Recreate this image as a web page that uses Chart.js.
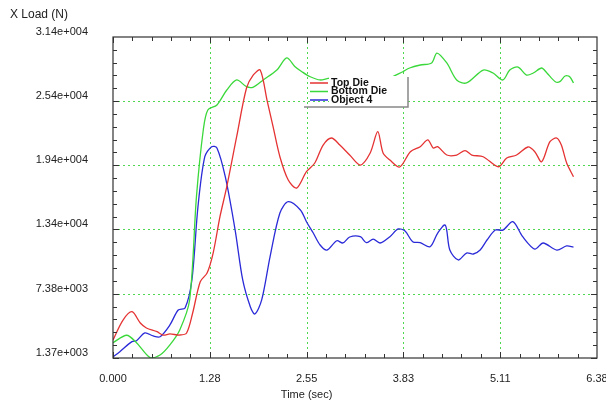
<!DOCTYPE html>
<html lang="en">
<head>
    <meta charset="UTF-8">
    <title>X Load</title>
    <script src="https://cdn.jsdelivr.net/npm/chart.js@4.4.1/dist/chart.umd.min.js"></script>
    <style>
        html, body { margin: 0; padding: 0; background: #fff; }
        #wrap { width: 606px; height: 403px; }
    </style>
</head>
<body>
    <div id="wrap"><canvas id="loadChart" width="606" height="403"></canvas></div>

    <script>
        // tick values and labels
        const xTickValues = [0, 1.276, 2.552, 3.828, 5.104, 6.38];
        const xTickLabels = ['0.000', '1.28', '2.55', '3.83', '5.11', '6.38'];
        const yTickValues = [1370, 7380, 13400, 19400, 25400, 31400];
        const yTickLabels = ['1.37e+003', '7.38e+003', '1.34e+004', '1.94e+004', '2.54e+004', '3.14e+004'];

        const seriesNames = ['Top Die', 'Bottom Die', 'Object 4'];
        const seriesColors = ['#e53232', '#3ad83a', '#2a2ad8'];

        // Top Die
        const topDieT = [0.00, 0.13, 0.25, 0.36, 0.44, 0.58, 0.66, 0.75, 0.88, 0.97, 1.05, 1.15, 1.24, 1.32, 1.41, 1.50, 1.63, 1.76, 1.85, 1.94,
            2.03, 2.11, 2.20, 2.31, 2.42, 2.55, 2.66, 2.77, 2.88, 2.99, 3.12, 3.26, 3.39, 3.49, 3.56, 3.65, 3.78, 3.92, 4.05, 4.15,
            4.22, 4.28, 4.40, 4.53, 4.64, 4.73, 4.88, 5.08, 5.19, 5.32, 5.47, 5.56, 5.65, 5.76, 5.85, 5.91, 5.98, 6.07];
        const topDieLoad = [3050, 4900, 5700, 4640, 4180, 3830, 3520, 3620, 3520, 3710, 5580, 8510, 9320, 11190, 14590, 17400, 22070, 26630, 27850, 28310,
            25500, 23010, 20200, 18020, 17270, 18800, 19610, 21290, 21950, 21290, 20360, 19420, 20550, 22540, 20550, 19890, 19240, 20670, 21140, 21780,
            21020, 21140, 20360, 20360, 20770, 20360, 20200, 19260, 20080, 20360, 21110, 20670, 19730, 21610, 21950, 21290, 19610, 18330];

        // Bottom Die
        const bottomDieT = [0.00, 0.18, 0.31, 0.49, 0.62, 0.75, 0.88, 1.01, 1.10, 1.19, 1.25, 1.37, 1.50, 1.63, 1.76, 1.85, 1.98, 2.16, 2.29, 2.40,
            2.49, 2.60, 2.73, 2.86, 3.03, 3.19, 3.36, 3.52, 3.69, 3.82, 3.91, 4.05, 4.20, 4.27, 4.40, 4.53, 4.66, 4.88, 5.01, 5.14,
            5.23, 5.34, 5.45, 5.54, 5.65, 5.72, 5.83, 5.89, 5.96, 6.02, 6.07];
        const bottomDieLoad = [2800, 3500, 2800, 1400, 1650, 2600, 4000, 6800, 16460, 22700, 24570, 25040, 26440, 27380, 26750, 26720, 27380, 28310, 29440, 28620,
            28150, 27680, 27380, 27560, 27380, 26820, 26630, 26910, 27690, 28150, 28500, 28780, 28970, 29900, 28970, 27380, 27100, 28310, 28030, 27380,
            28310, 28590, 27840, 28030, 28500, 28030, 27220, 27220, 27750, 27690, 27100];

        // Object 4
        const objectT = [0.00, 0.09, 0.25, 0.31, 0.42, 0.53, 0.62, 0.75, 0.86, 0.95, 1.04, 1.12, 1.21, 1.30, 1.37, 1.48, 1.61, 1.71, 1.81, 1.87,
            1.96, 2.07, 2.20, 2.31, 2.47, 2.55, 2.64, 2.73, 2.82, 2.95, 3.03, 3.12, 3.26, 3.34, 3.43, 3.52, 3.65, 3.76, 3.85, 3.95,
            4.05, 4.18, 4.28, 4.38, 4.44, 4.55, 4.66, 4.75, 4.84, 4.93, 5.04, 5.14, 5.27, 5.40, 5.56, 5.67, 5.85, 5.98, 6.07];
        const objectLoad = [1490, 1960, 2900, 2990, 3710, 3430, 3360, 4460, 5860, 6050, 8670, 15520, 20200, 21140, 21020, 18330, 13340, 8670, 6170, 5490,
            6800, 10840, 14940, 15990, 15220, 14120, 13060, 11940, 11470, 12340, 12130, 12690, 12720, 12160, 12500, 12130, 12720, 13440, 13250, 12250,
            12160, 11780, 13060, 13810, 11470, 10540, 11190, 11100, 11470, 12410, 13340, 13340, 14120, 12720, 11560, 12130, 11470, 11850, 11750];

        const seriesT = [topDieT, bottomDieT, objectT];
        const seriesLoad = [topDieLoad, bottomDieLoad, objectLoad];

        const FONT = '"Liberation Sans", Arial, sans-serif';

        // frame, inward ticks (major + minor), dotted green grid, legend, axis titles
        const decorations = {
            id: 'decorations',
            beforeDatasetsDraw(chart) {
                const { ctx, chartArea: a, scales: { x, y } } = chart;
                ctx.save();
                ctx.strokeStyle = '#4fd84f';
                ctx.lineWidth = 1;
                ctx.setLineDash([2, 3]);
                xTickValues.slice(1, -1).forEach(v => {
                    const px = Math.round(x.getPixelForValue(v)) + 0.5;
                    ctx.beginPath(); ctx.moveTo(px, a.top); ctx.lineTo(px, a.bottom); ctx.stroke();
                });
                yTickValues.slice(1, -1).forEach(v => {
                    const py = Math.round(y.getPixelForValue(v)) + 0.5;
                    ctx.beginPath(); ctx.moveTo(a.left, py); ctx.lineTo(a.right, py); ctx.stroke();
                });
                ctx.restore();
            },
            afterDraw(chart) {
                const { ctx, chartArea: a, scales: { x, y } } = chart;
                ctx.save();
                ctx.strokeStyle = '#333';
                ctx.lineWidth = 1.2;
                ctx.strokeRect(a.left, a.top, a.right - a.left, a.bottom - a.top);

                ctx.lineWidth = 1;
                for (let i = 0; i < xTickValues.length - 1; i++) {
                    const step = (xTickValues[i + 1] - xTickValues[i]) / 5;
                    for (let k = 0; k < 5; k++) {
                        const px = Math.round(x.getPixelForValue(xTickValues[i] + k * step)) + 0.5;
                        const len = k === 0 ? 6 : 4;
                        ctx.beginPath();
                        ctx.moveTo(px, a.bottom); ctx.lineTo(px, a.bottom - len);
                        ctx.moveTo(px, a.top); ctx.lineTo(px, a.top + len);
                        ctx.stroke();
                    }
                }
                for (let i = 0; i < yTickValues.length - 1; i++) {
                    const step = (yTickValues[i + 1] - yTickValues[i]) / 5;
                    for (let k = 0; k < 5; k++) {
                        const py = Math.round(y.getPixelForValue(yTickValues[i] + k * step)) + 0.5;
                        const len = k === 0 ? 6 : 4;
                        ctx.beginPath();
                        ctx.moveTo(a.left, py); ctx.lineTo(a.left + len, py);
                        ctx.moveTo(a.right, py); ctx.lineTo(a.right - len, py);
                        ctx.stroke();
                    }
                }

                // axis titles
                ctx.fillStyle = '#222';
                ctx.font = '12px ' + FONT;
                ctx.textBaseline = 'middle';
                ctx.textAlign = 'left';
                ctx.fillText('X Load (N)', 10, 15);
                ctx.font = '11px ' + FONT;
                ctx.textAlign = 'center';
                ctx.fillText('Time (sec)', x.getPixelForValue(xTickValues[2]), 395);

                // legend: white panel behind the text, drop shadow edges
                ctx.fillStyle = '#fff';
                ctx.fillRect(329, 76, 78, 30);
                ctx.strokeStyle = '#888';
                ctx.lineWidth = 1.5;
                ctx.beginPath();
                ctx.moveTo(304, 107); ctx.lineTo(408, 107); ctx.lineTo(408, 77);
                ctx.stroke();
                ctx.font = 'bold 10.5px ' + FONT;
                ctx.textAlign = 'left';
                seriesNames.forEach((name, i) => {
                    const ly = 83 + i * 8.5;
                    ctx.strokeStyle = seriesColors[i];
                    ctx.lineWidth = 1.5;
                    ctx.beginPath(); ctx.moveTo(310, ly); ctx.lineTo(328, ly); ctx.stroke();
                    ctx.fillStyle = '#111';
                    ctx.fillText(name, 331, ly);
                });
                ctx.restore();
            }
        };

        const ctx = document.getElementById('loadChart').getContext('2d');
        new Chart(ctx, {
            type: 'scatter',
            data: {
                datasets: seriesNames.map((name, i) => ({
                    label: name,
                    data: seriesT[i].map((t, j) => ({ x: t, y: seriesLoad[i][j] })),
                    borderColor: seriesColors[i],
                    backgroundColor: seriesColors[i],
                    borderWidth: 1.3,
                    showLine: true,
                    pointRadius: 0,
                    tension: 0.3
                }))
            },
            options: {
                responsive: false,
                animation: false,
                layout: { padding: { left: 0, right: 9, top: 37, bottom: 0 } },
                plugins: { legend: { display: false }, tooltip: { enabled: false } },
                scales: {
                    x: {
                        type: 'linear',
                        min: 0,
                        max: 6.38,
                        afterBuildTicks: scale => { scale.ticks = xTickValues.map(v => ({ value: v })); },
                        afterFit: scale => {
                            scale.height = 45;
                            scale.paddingLeft = 0;
                            scale.paddingRight = 0;
                        },
                        ticks: {
                            autoSkip: false,
                            maxRotation: 0,
                            padding: 14,
                            color: '#222',
                            font: { family: FONT, size: 11 },
                            callback: (v, i) => xTickLabels[i]
                        },
                        grid: { display: false, drawTicks: false },
                        border: { display: false }
                    },
                    y: {
                        min: 1370,
                        max: 31400,
                        afterBuildTicks: scale => { scale.ticks = yTickValues.map(v => ({ value: v })); },
                        afterFit: scale => {
                            scale.width = 113;
                            scale.paddingTop = 0;
                            scale.paddingBottom = 0;
                        },
                        ticks: {
                            autoSkip: false,
                            padding: 25,
                            labelOffset: -5,
                            color: '#222',
                            font: { family: FONT, size: 11 },
                            callback: (v, i) => yTickLabels[i]
                        },
                        grid: { display: false, drawTicks: false },
                        border: { display: false }
                    }
                }
            },
            plugins: [decorations]
        });
    </script>
</body>
</html>
